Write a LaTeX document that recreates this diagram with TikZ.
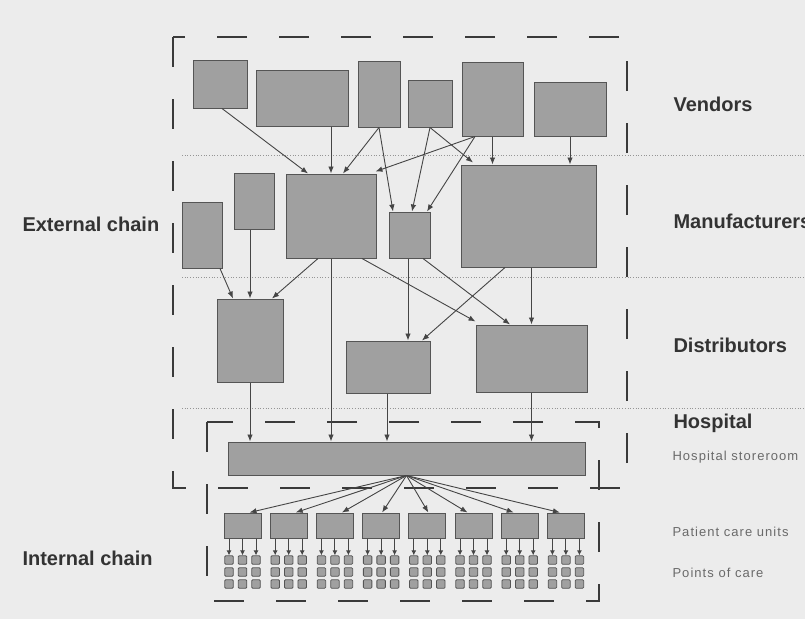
\documentclass[tikz,border=0pt]{standalone}
\usepackage{fontspec}
\setmainfont{Liberation Sans}
\newfontfamily\notefont[LetterSpace=8]{Liberation Sans}
\usepackage{xcolor}
\definecolor{ChainBg}{HTML}{ECECEC}
\definecolor{BoxFill}{HTML}{A0A0A0}
\definecolor{BoxLine}{HTML}{555555}
\definecolor{ArrowGray}{HTML}{454545}
\definecolor{DashGray}{HTML}{3A3A3A}
\definecolor{TierGray}{HTML}{959595}
\definecolor{LabelGray}{HTML}{333333}
\definecolor{NoteGray}{HTML}{6A6A6A}
\usepackage{tikz}
\usetikzlibrary{calc, arrows.meta}

\begin{document}
\begin{tikzpicture}[
        x=1pt, y=-1pt,
        >={Latex[length=7pt, width=5.5pt]},
        % Styles
        firm/.style={rectangle, draw=BoxLine, fill=BoxFill, line width=1pt, inner sep=0pt},
        unitbox/.style={firm, minimum width=37pt, minimum height=25pt},
        carept/.style={rectangle, rounded corners=1pt, draw=BoxLine, fill=BoxFill, line width=0.8pt, minimum size=8.5pt, inner sep=0pt},
        flow/.style={->, ArrowGray, line width=0.9pt},
        chainbox/.style={DashGray, line width=2.7pt, dash pattern=on 30pt off 32pt},
        tierline/.style={TierGray, line width=0.7pt, dotted},
        tier/.style={anchor=base west, text=LabelGray, font=\fontsize{20}{22}\selectfont\bfseries},
        note/.style={anchor=base west, text=NoteGray, font=\notefont\fontsize{13}{15}\selectfont}
    ]
    % 0. CANVAS
    \fill[ChainBg] (0,0) rectangle (805,619);
    \useasboundingbox (0,0) rectangle (805,619);

    % 1. TIERS (dotted separators)
    \draw[tierline] (182,155) -- (805,155);
    \draw[tierline] (182,277) -- (805,277);
    \draw[tierline] (182,408) -- (805,408);

    % 2. CHAIN FRAMES
    \draw[chainbox] (173,37) rectangle (627,488);
    \draw[chainbox] (207,422) rectangle (599,601);

    % 3. VENDORS
    \node[firm, minimum width=54pt, minimum height=48pt] (v1) at (220,84) {};
    \node[firm, minimum width=92pt, minimum height=56pt] (v2) at (302,98) {};
    \node[firm, minimum width=42pt, minimum height=66pt] (v3) at (379,94) {};
    \node[firm, minimum width=44pt, minimum height=47pt] (v4) at (430,103.5) {};
    \node[firm, minimum width=61pt, minimum height=74pt] (v5) at (492.5,99) {};
    \node[firm, minimum width=72pt, minimum height=54pt] (v6) at (570,109) {};

    % 4. MANUFACTURERS
    \node[firm, minimum width=40pt, minimum height=66pt] (m1) at (202,235) {};
    \node[firm, minimum width=40pt, minimum height=56pt] (m2) at (254,201) {};
    \node[firm, minimum width=90pt, minimum height=84pt] (m3) at (331,216) {};
    \node[firm, minimum width=41pt, minimum height=46pt] (m4) at (409.5,235) {};
    \node[firm, minimum width=135pt, minimum height=102pt] (m5) at (528.5,216) {};

    % 5. DISTRIBUTORS
    \node[firm, minimum width=66pt, minimum height=83pt] (d1) at (250,340.5) {};
    \node[firm, minimum width=84pt, minimum height=52pt] (d2) at (388,367) {};
    \node[firm, minimum width=111pt, minimum height=67pt] (d3) at (531.5,358.5) {};

    % 6. HOSPITAL STOREROOM
    \node[firm, minimum width=357pt, minimum height=33pt] (store) at (406.5,458.5) {};

    % 7. FLOWS: vendors -> manufacturers
    \draw[flow] ([xshift=2pt]v1.south) -- ([xshift=-23pt]m3.north);
    \draw[flow] ([xshift=29pt]v2.south) -- (m3.north);
    \draw[flow] (v3.south) -- ([xshift=12pt]m3.north);
    \draw[flow] (v3.south) -- ([xshift=-16.5pt]m4.north);
    \draw[flow] (v4.south) -- ([xshift=2.5pt]m4.north);
    \draw[flow] (v4.south) -- ([xshift=-55.5pt,yshift=2pt]m5.north);
    \draw[flow] ([xshift=-17.5pt]v5.south) -- ([xshift=-1pt,yshift=2pt]m3.north east);
    \draw[flow] ([xshift=-17.5pt]v5.south) -- ([xshift=17.5pt]m4.north);
    \draw[flow] (v5.south) -- ([xshift=-36pt]m5.north);
    \draw[flow] (v6.south) -- ([xshift=41.5pt]m5.north);

    % 8. FLOWS: manufacturers -> distributors
    \draw[flow] ([xshift=18pt]m1.south) -- ([xshift=-17pt]d1.north);
    \draw[flow] ([xshift=-4pt]m2.south) -- (d1.north);
    \draw[flow] ([xshift=-13pt]m3.south) -- ([xshift=22pt]d1.north);
    \draw[flow] ([xshift=31pt]m3.south) -- ([yshift=3pt]d3.north west);
    \draw[flow] ([xshift=-1.5pt]m4.south) -- ([xshift=20pt]d2.north);
    \draw[flow] ([xshift=13.5pt]m4.south) -- ([xshift=-21.5pt]d3.north);
    \draw[flow] ([xshift=-23.5pt]m5.south) -- ([xshift=34pt]d2.north);
    \draw[flow] ([xshift=3pt]m5.south) -- (d3.north);

    % 9. FLOWS: into the storeroom
    \draw[flow] (m3.south) -- ([xshift=-75.5pt]store.north);
    \draw[flow] (d1.south) -- ([xshift=-156.5pt]store.north);
    \draw[flow] ([xshift=-1pt]d2.south) -- ([xshift=-19.5pt]store.north);
    \draw[flow] (d3.south) -- ([xshift=125pt]store.north);

    % 10. INTERNAL CHAIN: patient care units and points of care
    \foreach \i/\dx in {0/7,1/7,2/7,3/1,4/1,5/-6,6/-6,7/-6} {
        \node[unitbox] (pcu\i) at ({242.5+46.2*\i},525.5) {};
        \draw[flow] (store.south) -- ([xshift=\dx pt]pcu\i.north);
        \foreach \c/\cx in {a/-13.5,b/0,c/13.5} {
            \foreach \r/\ry in {1/560,2/572,3/584}
                \node[carept] (poc\i\c\r) at ({242.5+46.2*\i+\cx},\ry) {};
            \draw[flow, arrows={->[length=5pt, width=5pt]}] ([xshift=\cx pt]pcu\i.south) -- (poc\i\c1.north);
        }
    }

    % 11. LABELS
    \node[tier] (lblVend) at (670,111) {Vendors};
    \node[tier] (lblManu) at (670,228) {Manufacturers};
    \node[tier] (lblDist) at (670,352) {Distributors};
    \node[tier] (lblHosp) at (670,428) {Hospital};
    \node[note] (lblStore) at (669,460) {Hospital storeroom};
    \node[note] (lblUnits) at (669,536) {Patient care units};
    \node[note] (lblPoints) at (669,577) {Points of care};
    \node[tier] (lblExt) at (19,231) {External chain};
    \node[tier] (lblInt) at (19,565) {Internal chain};
\end{tikzpicture}
\end{document}
